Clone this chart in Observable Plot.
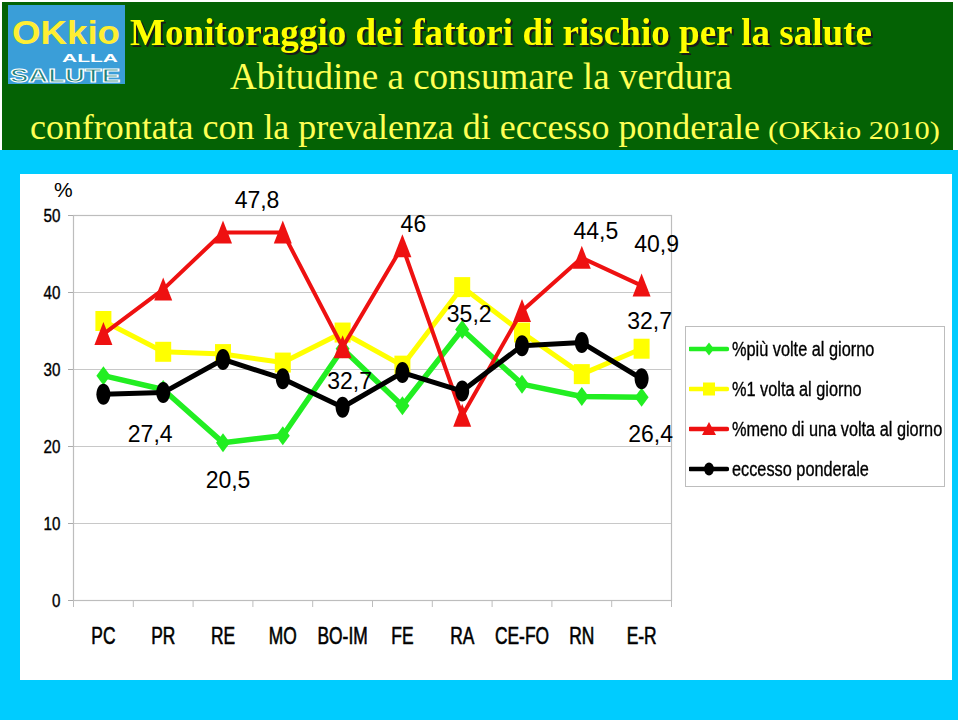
<!DOCTYPE html>
<html>
<head>
<meta charset="utf-8">
<script src="https://cdn.jsdelivr.net/npm/d3@7"></script>
<script src="https://cdn.jsdelivr.net/npm/@observablehq/plot@0.6"></script>
<style>
  html, body { margin: 0; padding: 0; }
  body { width: 960px; height: 720px; position: relative; overflow: hidden; background: #ffffff; font-family: "Liberation Sans", Arial, sans-serif; }
  #header { position: absolute; left: 2px; top: 2px; width: 951px; height: 148px; background: #046204; }
  #headerSvg { position: absolute; left: 0; top: 0; }
  #frameBand { position: absolute; left: 0; top: 150px; width: 958px; height: 570px; background: #00ccff; }
  #panel { position: absolute; left: 20px; top: 174px; width: 932px; height: 506px; background: #ffffff; }
  #chart { position: absolute; left: 20px; top: 174px; }
  #pct { position: absolute; left: 54px; top: 178px; font: 21px "Liberation Sans", Arial, sans-serif; color: #000; }
  #legend { position: absolute; left: 685px; top: 326px; width: 260px; height: 161px; border: 1px solid #bdbdbd; background: #fff; box-sizing: border-box; }
  .leg-item { position: absolute; left: 0; height: 30px; width: 258px; }
  .leg-item svg { position: absolute; left: 3px; top: 0; }
  .leg-item span { position: absolute; left: 46px; top: 3px; font: 20px "Liberation Sans", Arial, sans-serif; color: #000; white-space: nowrap; line-height: 24px; transform: scaleX(0.815); transform-origin: 0 50%; -webkit-text-stroke: 0.35px #000; }
  .title { filter: drop-shadow(2px 2px 0px #1a1a1a); }
</style>
</head>
<body>
<div id="header"></div>
<svg id="headerSvg" width="960" height="150">
  <rect x="8" y="5" width="117" height="79" fill="#3a9ed8"></rect>
  <text x="12" y="44" font-family="Liberation Sans, Arial, sans-serif" font-weight="bold" font-size="34" fill="#ffee33" textLength="108" lengthAdjust="spacingAndGlyphs">OKkio</text>
  <text x="62" y="62" font-family="Liberation Sans, Arial, sans-serif" font-weight="bold" font-size="10" fill="#ffffff" textLength="56" lengthAdjust="spacingAndGlyphs">ALLA</text>
  <text x="10" y="82" font-family="Liberation Sans, Arial, sans-serif" font-weight="bold" font-size="18" fill="#1f7f7a" stroke="#ffffff" stroke-width="1" textLength="110" lengthAdjust="spacingAndGlyphs">SALUTE</text>
  <text class="title" x="130" y="45" font-family="Liberation Serif, Times New Roman, serif" font-weight="bold" font-size="37" fill="#ffff00" textLength="742" lengthAdjust="spacingAndGlyphs">Monitoraggio dei fattori di rischio per la salute</text>
  <text x="230" y="89" font-family="Liberation Serif, Times New Roman, serif" font-size="37" fill="#ffff55" textLength="502" lengthAdjust="spacingAndGlyphs">Abitudine a consumare la verdura</text>
  <text x="30" y="139" font-family="Liberation Serif, Times New Roman, serif" font-size="36.5" fill="#ffff55" textLength="730" lengthAdjust="spacingAndGlyphs">confrontata con la prevalenza di eccesso ponderale</text>
  <text x="768" y="139" font-family="Liberation Serif, Times New Roman, serif" font-size="25" fill="#ffff55" textLength="172" lengthAdjust="spacingAndGlyphs">(OKkio 2010)</text>
</svg>
<div id="frameBand"></div>
<div id="panel"></div>
<div id="chart"></div>
<div id="pct">%</div>
<div id="legend"></div>
<script>
// ---- data ----
const categories = ["PC", "PR", "RE", "MO", "BO-IM", "FE", "RA", "CE-FO", "RN", "E-R"];
const seriesNames = ["%più volte al giorno", "%1 volta al giorno", "%meno di una volta al giorno", "eccesso ponderale"];
const piuVolteAlGiorno = [29.2, 27.4, 20.5, 21.4, 32.7, 25.3, 35.2, 28.1, 26.5, 26.4];
const unaVoltaAlGiorno = [36.3, 32.3, 32.0, 30.9, 34.8, 30.5, 40.7, 34.8, 29.4, 32.7];
const menoDiUnaVolta = [34.6, 40.4, 47.8, 47.8, 32.9, 46.0, 24.0, 37.6, 44.5, 40.9];
const eccessoPonderale = [26.8, 27.0, 31.3, 28.8, 25.1, 29.6, 27.2, 33.1, 33.5, 28.8];
const yTicks = [0, 10, 20, 30, 40, 50];
// labelled points: [series index, category]
const labelSeries = [2, 2, 2, 2, 0, 0, 1, 0, 0, 0];
const labelCats = ["RE", "FE", "RN", "E-R", "RA", "BO-IM", "E-R", "PR", "RE", "E-R"];

// ---- styling ----
const seriesValues = [piuVolteAlGiorno, unaVoltaAlGiorno, menoDiUnaVolta, eccessoPonderale];
const colors = ["#22ee22", "#ffff00", "#ee1111", "#000000"];
const widths = [5.5, 5, 4, 5];
const labelOffsets = [[34, -32], [11, -22], [14, -26], [15, -41], [7, -15], [7, 33], [8, -27], [-13, 45], [5, 38], [9, 37]];
const sans = "'Liberation Sans', Arial, sans-serif";

const k = 0.5523;
function ellipsePath(ctx, rx, ry) {
  ctx.moveTo(0, -ry);
  ctx.bezierCurveTo(k * rx, -ry, rx, -k * ry, rx, 0);
  ctx.bezierCurveTo(rx, k * ry, k * rx, ry, 0, ry);
  ctx.bezierCurveTo(-k * rx, ry, -rx, k * ry, -rx, 0);
  ctx.bezierCurveTo(-rx, -k * ry, -k * rx, -ry, 0, -ry);
  ctx.closePath();
}
const symbols = [
  {draw(ctx, size) { const s = Math.sqrt(size / Math.PI); ctx.moveTo(0, -9.5 * s); ctx.lineTo(7 * s, 0); ctx.lineTo(0, 9.5 * s); ctx.lineTo(-7 * s, 0); ctx.closePath(); }},
  {draw(ctx, size) { const s = Math.sqrt(size / Math.PI); ctx.rect(-8 * s, -10 * s, 16 * s, 20 * s); }},
  {draw(ctx, size) { const s = Math.sqrt(size / Math.PI); ctx.moveTo(0, -12 * s); ctx.lineTo(9 * s, 11 * s); ctx.lineTo(-9 * s, 11 * s); ctx.closePath(); }},
  {draw(ctx, size) { const s = Math.sqrt(size / Math.PI); ellipsePath(ctx, 7 * s, 10.5 * s); }}
];

const rows = [];
seriesValues.forEach((vals, s) => vals.forEach((v, i) => rows.push({s, i, cat: categories[i], value: v})));
const fmt = v => String(v).replace(".", ",");

const marks = [
  Plot.gridY(yTicks.filter(t => t > 0), {stroke: "#c8c8c8", strokeOpacity: 1, strokeWidth: 1.2}),
  Plot.frame({stroke: "#bdbdbd", strokeWidth: 1.2}),
  Plot.axisY({ticks: yTicks, label: null, tickSize: 5, tickPadding: 8, stroke: "#aaaaaa", fill: "#000", fontSize: 19, fontFamily: sans, tickFormat: d => String(d)}),
  Plot.axisX({ticks: categories.map((c, i) => i + 0.5), label: null, tickSize: 0, tickPadding: 27, fill: "#000", fontSize: 23.5, fontFamily: sans, tickFormat: d => categories[Math.floor(d)]}),
  Plot.axisX({ticks: d3.range(categories.length + 1), label: null, tickSize: 7, stroke: "#bdbdbd", tickFormat: () => ""})
];
seriesValues.forEach((vals, s) => {
  const data = rows.filter(r => r.s === s);
  marks.push(Plot.line(data, {x: d => d.i + 0.5, y: "value", stroke: colors[s], strokeWidth: widths[s], strokeLinejoin: "round"}));
  marks.push(Plot.dot(data, {x: d => d.i + 0.5, y: "value", symbol: symbols[s], r: 1, fill: colors[s], stroke: "none"}));
});
labelSeries.forEach((s, j) => {
  const i = categories.indexOf(labelCats[j]);
  const d = rows.find(r => r.s === s && r.i === i);
  marks.push(Plot.text([d], {x: r => r.i + 0.5, y: "value", text: r => fmt(r.value), dx: labelOffsets[j][0], dy: labelOffsets[j][1], fontSize: 23, fill: "#000", textAnchor: "middle", lineAnchor: "middle", fontFamily: sans}));
});

const chart = Plot.plot({
  width: 670,
  height: 486,
  marginLeft: 53,
  marginRight: 19,
  marginTop: 41,
  marginBottom: 60,
  style: {background: "transparent", overflow: "visible"},
  x: {domain: [0, categories.length], axis: null},
  y: {domain: [0, 50], axis: null},
  marks
});
document.getElementById("chart").appendChild(chart);

// condense axis tick labels (narrow font look), scaling about each label's anchor
const svgNS = "http://www.w3.org/2000/svg";
function condense(selector, factor, anchor, weight) {
  chart.querySelectorAll(selector).forEach(t => {
    const bb = t.getBBox();
    let ax = anchor === "end" ? bb.x + bb.width : bb.x + bb.width / 2;
    const ay = bb.y + bb.height / 2;
    const c = t.transform && t.transform.baseVal.consolidate();
    if (c) { const m = c.matrix; ax = m.a * ax + m.c * ay + m.e; }
    const g = document.createElementNS(svgNS, "g");
    t.parentNode.insertBefore(g, t);
    g.appendChild(t);
    g.setAttribute("transform", `translate(${ax},0) scale(${factor},1) translate(${-ax},0)`);
    t.setAttribute("stroke", "#000");
    t.setAttribute("stroke-width", weight);
  });
}
condense('g[aria-label="y-axis tick label"] text', 0.8, "end", 0.4);
condense('g[aria-label="x-axis tick label"] text', 0.74, "middle", 0.6);

// legend
const legend = document.getElementById("legend");
const legShapes = [
  '<path d="M0,-6.5 L5,0 L0,6.5 L-5,0 Z"/>',
  '<rect x="-6" y="-6.5" width="12" height="13"/>',
  '<path d="M0,-7 L7,6 L-7,6 Z"/>',
  '<ellipse cx="0" cy="0" rx="5" ry="6.5"/>'
];
seriesNames.forEach((name, s) => {
  const item = document.createElement("div");
  item.className = "leg-item";
  item.style.top = (7 + s * 40) + "px";
  item.innerHTML = `<svg width="40" height="30"><line x1="1" y1="15" x2="38" y2="15" stroke="${colors[s]}" stroke-width="4.5" stroke-linecap="round"/><g transform="translate(20,15)" fill="${colors[s]}">${legShapes[s]}</g></svg><span>${name}</span>`;
  legend.appendChild(item);
});
</script>
</body>
</html>
